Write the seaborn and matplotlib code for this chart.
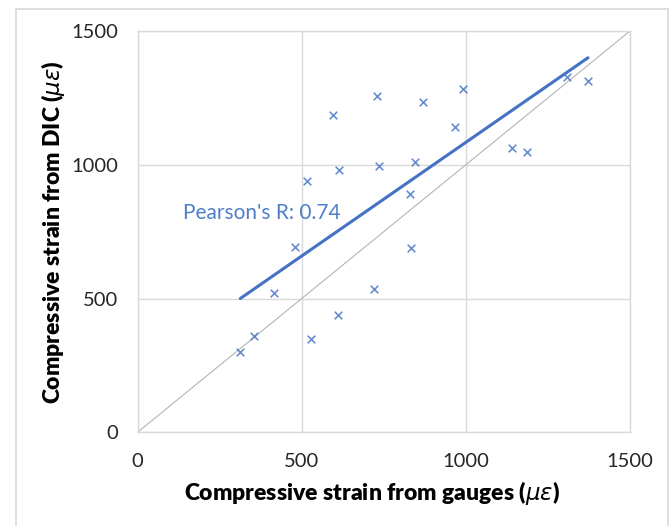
import numpy as np
import pandas as pd
import matplotlib
matplotlib.use("Agg")
import matplotlib.pyplot as plt
import matplotlib.patches as patches
import seaborn as sns

# Data
gauges = [596, 730, 871, 991, 968, 1141, 1187, 1307, 1372, 517, 614, 737, 844, 830,
          480, 832, 417, 720, 612, 356, 313, 528]
dic = [1187, 1258, 1236, 1284, 1142, 1064, 1048, 1327, 1314, 940, 980, 995, 1010, 891,
       692, 690, 520, 536, 440, 361, 300, 348]
ticks = [0, 500, 1000, 1500]
identity = [0, 1500]

df = pd.DataFrame({"gauges": gauges, "dic": dic})
r = np.corrcoef(df["gauges"], df["dic"])[0, 1]

sns.set_theme(style="white")
plt.rcParams["font.family"] = ["Lato", "DejaVu Sans"]
plt.rcParams["mathtext.fontset"] = "custom"
plt.rcParams["mathtext.it"] = "DejaVu Sans:italic"

blue = "#4472C4"
grid_c = "#d9d9d9"

fig = plt.figure(figsize=(6.72, 5.26), dpi=100)
ax = fig.add_axes([137.5 / 672, 1 - 432.3 / 526, (630 - 137.5) / 672, (432.3 - 31) / 526])

# figure border
fig.patches.append(patches.Rectangle((16 / 672, -0.1), (668 - 16) / 672, 1.1 - 9 / 526,
                                     transform=fig.transFigure, fill=False,
                                     edgecolor=grid_c, lw=1.2, zorder=0))

# 1:1 line
sns.lineplot(x=identity, y=identity, ax=ax, color="#b4b4b4", lw=0.8, zorder=1)

sns.regplot(data=df, x="gauges", y="dic", ax=ax, ci=None, marker="x",
            scatter_kws=dict(color=blue, s=30, linewidths=1.2, zorder=3),
            line_kws=dict(color=blue, lw=2.2, zorder=4))

ax.set_xlim(0, 1500)
ax.set_ylim(0, 1500)
ax.set_xticks(ticks)
ax.set_yticks(ticks)
ax.grid(True, color=grid_c, lw=1.0)
ax.set_axisbelow(True)
for s in ax.spines.values():
    s.set_color(grid_c)
    s.set_linewidth(1.0)
ax.tick_params(axis="both", length=0, labelsize=14.5, labelcolor="#262626")
ax.tick_params(axis="y", pad=14)
ax.tick_params(axis="x", pad=15)

ax.set_xlabel(r"Compressive strain from gauges ($\mu\varepsilon$)", fontsize=16.5,
              fontweight="heavy", color="black")
ax.set_ylabel(r"Compressive strain from DIC ($\mu\varepsilon$)", fontsize=16.5,
              fontweight="heavy", color="black")
ax.xaxis.set_label_coords(0.476, -0.117)
ax.yaxis.set_label_coords(-0.143, 0.499)

ax.text(139, 820, f"Pearson's R: {r:.2f}", color="#4f7fc7", fontsize=15,
        ha="left", va="center")

fig.savefig("out.png", dpi=100)
